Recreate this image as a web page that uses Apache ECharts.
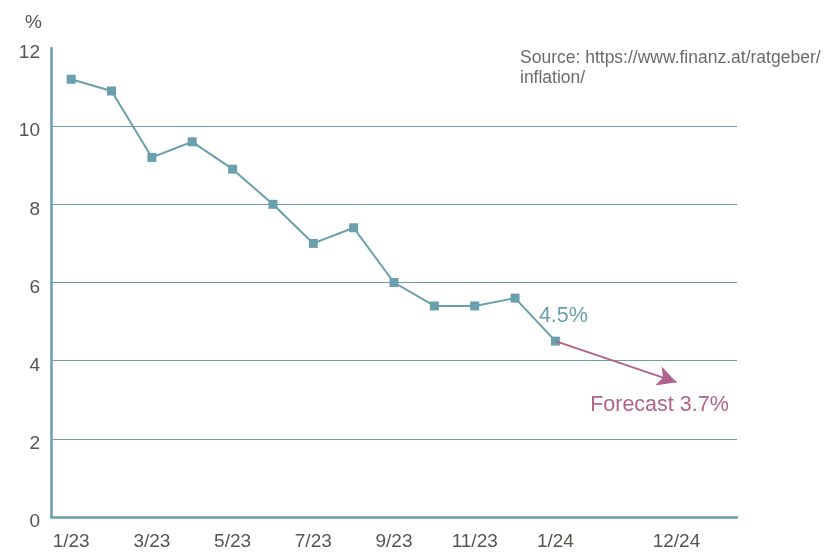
<!DOCTYPE html>
<html>
<head>
<meta charset="utf-8">
<script src="https://cdn.jsdelivr.net/npm/echarts@6/dist/echarts.min.js"></script>
<style>
  html, body { margin: 0; padding: 0; background: #fff; }
  #main { width: 826px; height: 552px; }
</style>
</head>
<body>
<div id="main"></div>
<script>
// months on the x axis, the last ones are the forecast span
const months = ['1/23', '2/23', '3/23', '4/23', '5/23', '6/23', '7/23', '8/23', '9/23',
  '10/23', '11/23', '12/23', '1/24', '2/24', '3/24', '12/24', ''];
const shownLabels = ['1/23', '3/23', '5/23', '7/23', '9/23', '11/23', '1/24', '12/24'];
// inflation in %
const inflation = [11.2, 10.9, 9.2, 9.6, 8.9, 8.0, 7.0, 7.4, 6.0, 5.4, 5.4, 5.6, 4.5];
const forecastFrom = ['1/24', 4.5];
const forecastTo = ['12/24', 3.45];
const yTicks = [0, 2, 4, 6, 8, 10, 12];

const teal = '#6a9fae';
const purple = '#b0648c';
const textColor = '#55564f';
const font = 'Liberation Sans';

const myChart = echarts.init(document.getElementById('main'));
myChart.setOption({
  animation: false,
  textStyle: { fontFamily: font },
  title: [
    {
      text: '%',
      left: 20, top: 8,
      textStyle: { fontSize: 19, fontWeight: 'normal', color: textColor, fontFamily: font }
    },
    {
      text: 'Source: https://www.finanz.at/ratgeber/\ninflation/',
      left: 520, top: 48, padding: 0,
      textStyle: { fontSize: 17.5, fontWeight: 'normal', color: '#6b6b6b', lineHeight: 20, fontFamily: font }
    }
  ],
  grid: { left: 51, right: 89, top: 48, bottom: 35 },
  xAxis: {
    type: 'category',
    data: months,
    boundaryGap: true,
    axisLine: { lineStyle: { color: teal, width: 2.5 } },
    axisTick: { show: false },
    axisLabel: {
      interval: (i, v) => shownLabels.includes(v),
      color: textColor, fontSize: 19, margin: 15, fontFamily: font
    },
    splitLine: { show: false }
  },
  yAxis: {
    type: 'value',
    min: yTicks[0], max: yTicks[yTicks.length - 1], interval: 2,
    axisLine: { show: true, lineStyle: { color: teal, width: 2.5 } },
    axisTick: { show: false },
    axisLabel: {
      color: textColor, fontSize: 19, margin: 11, fontFamily: font,
      verticalAlign: 'top', lineHeight: 10
    },
    splitLine: {
      lineStyle: { color: [teal, teal, teal, teal, teal, teal, 'rgba(0,0,0,0)'], width: 1 }
    }
  },
  series: [
    {
      name: 'Inflation',
      type: 'line',
      data: inflation.map((v, i) => i === inflation.length - 1 ? {
        value: v,
        label: {
          show: true, position: 'top', offset: [8, -5],
          formatter: '{c}%', color: teal, fontSize: 21.5, fontFamily: font
        }
      } : v),
      symbol: 'rect',
      symbolSize: 9,
      itemStyle: { color: teal },
      lineStyle: { color: teal, width: 2 }
    },
    {
      name: 'Forecast',
      type: 'line',
      data: [],
      markLine: {
        silent: true,
        symbol: ['none', 'arrow'],
        symbolSize: [15, 19],
        lineStyle: { color: purple, width: 2, type: 'solid' },
        label: { show: false },
        data: [[{ coord: forecastFrom }, { coord: forecastTo }]]
      },
      markPoint: {
        silent: true,
        symbol: 'circle', symbolSize: 0,
        label: {
          show: true, offset: [-17, 23],
          formatter: 'Forecast 3.7%', color: purple, fontSize: 21.5, fontFamily: font
        },
        data: [{ coord: forecastTo }]
      }
    }
  ]
});
</script>
</body>
</html>
